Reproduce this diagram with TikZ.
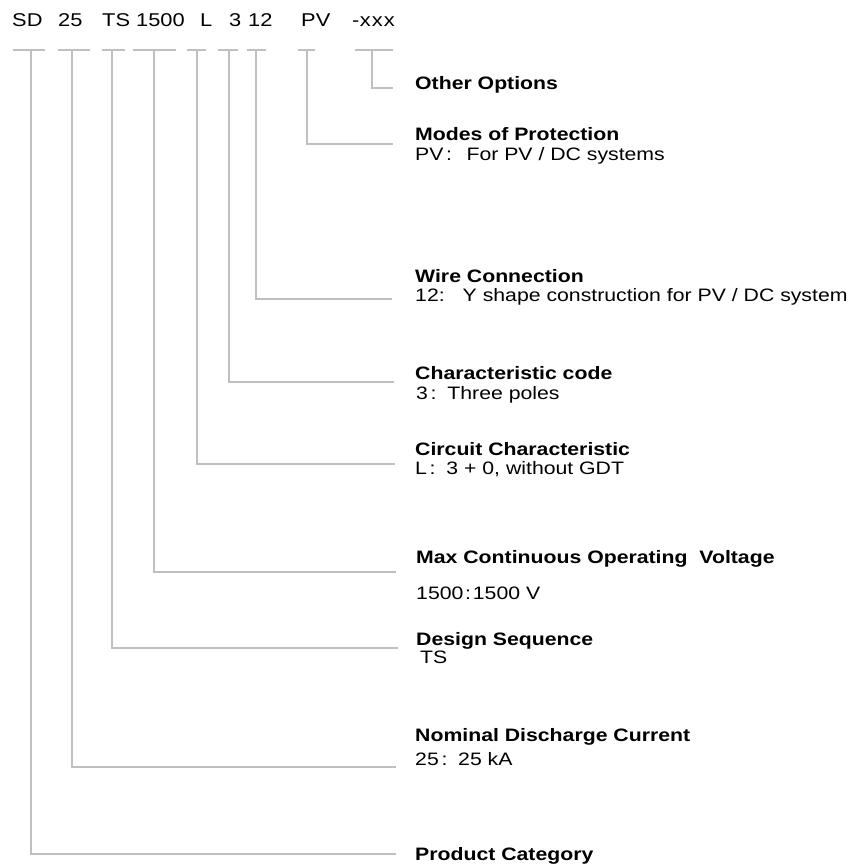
\documentclass[tikz,border=0pt]{standalone}
\usepackage{fontspec}
\setmainfont{Liberation Sans}[FakeStretch=1.18]
\definecolor{linegray}{RGB}{192,192,192}
\definecolor{txt}{RGB}{0,0,0}
\tikzset{
  code/.style={anchor=base west, inner sep=0pt, font=\fontsize{18.5}{20}\selectfont, text=txt},
  ttl/.style={anchor=base west, inner sep=0pt, font=\fontsize{18}{20}\selectfont\bfseries, text=txt},
  sub/.style={anchor=base west, inner sep=0pt, font=\fontsize{18}{20}\selectfont, text=txt},
  tick/.style={draw=linegray, line width=1.6pt},
  lead/.style={draw=linegray, line width=1.6pt}
}
\begin{document}
\begin{tikzpicture}[x=1pt,y=-1pt]
\useasboundingbox (0,0) rectangle (854,867);
% header code
\node[code] (cSD) at (12,26.7) {SD};
\node[code] (c25) at (58,26.7) {25};
\node[code] (cTS) at (102,26.7) {TS};
\node[code] (c1500) at (136,26.7) {1500};
\node[code] (cL) at (200,26.7) {L};
\node[code] (c3) at (229,26.7) {3};
\node[code] (c12) at (248,26.7) {12};
\node[code] (cPV) at (301,26.7) {PV};
\node[code] (cX) at (352,26.7) {-\hspace{0.5pt}x\hspace{1pt}x\hspace{1pt}x};
% ticks
\draw[tick] (13,50) -- (45,50);
\draw[tick] (58,50) -- (90,50);
\draw[tick] (102,50) -- (125,50);
\draw[tick] (133,50) -- (176,50);
\draw[tick] (187,50) -- (206,50);
\draw[tick] (218,50) -- (238,50);
\draw[tick] (247,50) -- (266,50);
\draw[tick] (298,50) -- (315,50);
\draw[tick] (355,50) -- (393,50);
\coordinate (tSD) at (31,50);
\coordinate (t25) at (72,50);
\coordinate (tTS) at (112,50);
\coordinate (t1500) at (154,50);
\coordinate (tL) at (197,50);
\coordinate (t3) at (229,50);
\coordinate (t12) at (256,50);
\coordinate (tPV) at (307,50);
\coordinate (tX) at (372,50);
% ends
\coordinate (eSD) at (396,854);
\coordinate (e25) at (396,767);
\coordinate (eTS) at (398,648);
\coordinate (e1500) at (396,572);
\coordinate (eL) at (395,464);
\coordinate (e3) at (394,382);
\coordinate (e12) at (392,299);
\coordinate (ePV) at (393,144);
\coordinate (eX) at (393,88);
\draw[lead] (tSD) |- (eSD);
\draw[lead] (t25) |- (e25);
\draw[lead] (tTS) |- (eTS);
\draw[lead] (t1500) |- (e1500);
\draw[lead] (tL) |- (eL);
\draw[lead] (t3) |- (e3);
\draw[lead] (t12) |- (e12);
\draw[lead] (tPV) |- (ePV);
\draw[lead] (tX) |- (eX);
% labels
\node[ttl] (lX) at (415,89) {Other Options};
\node[ttl] (lPV) at (415,140) {Modes of Protection};
\node[sub] (sPV) at (415,160) {PV\hspace{0.15em}:\hspace{0.8em}For PV / DC systems};
\node[ttl] (l12) at (415,282) {Wire Connection};
\node[sub] (s12) at (415,301.5) {12:\hspace{1em}Y shape construction for PV / DC system};
\node[ttl] (l3) at (415,379) {Characteristic code};
\node[sub] (s3) at (416,399) {3\hspace{0.15em}:\hspace{0.6em}Three poles};
\node[ttl] (lL) at (415,455) {Circuit Characteristic};
\node[sub] (sL) at (415,474.3) {L\hspace{0.15em}:\hspace{0.6em}3 + 0, without GDT};
\node[ttl] (l1500) at (416,563.3) {Max Continuous Operating\ \ Voltage};
\node[sub] (s1500) at (416,599) {1500\hspace{0.1em}:\hspace{0.1em}1500 V};
\node[ttl] (lTS) at (416,645) {Design Sequence};
\node[sub] (sTS) at (420,663.3) {TS};
\node[ttl] (l25) at (415,741) {Nominal Discharge Current};
\node[sub] (s25) at (415,765) {25\hspace{0.15em}:\hspace{0.6em}25 kA};
\node[ttl] (lSD) at (415,860.7) {Product Category};
\end{tikzpicture}
\end{document}
